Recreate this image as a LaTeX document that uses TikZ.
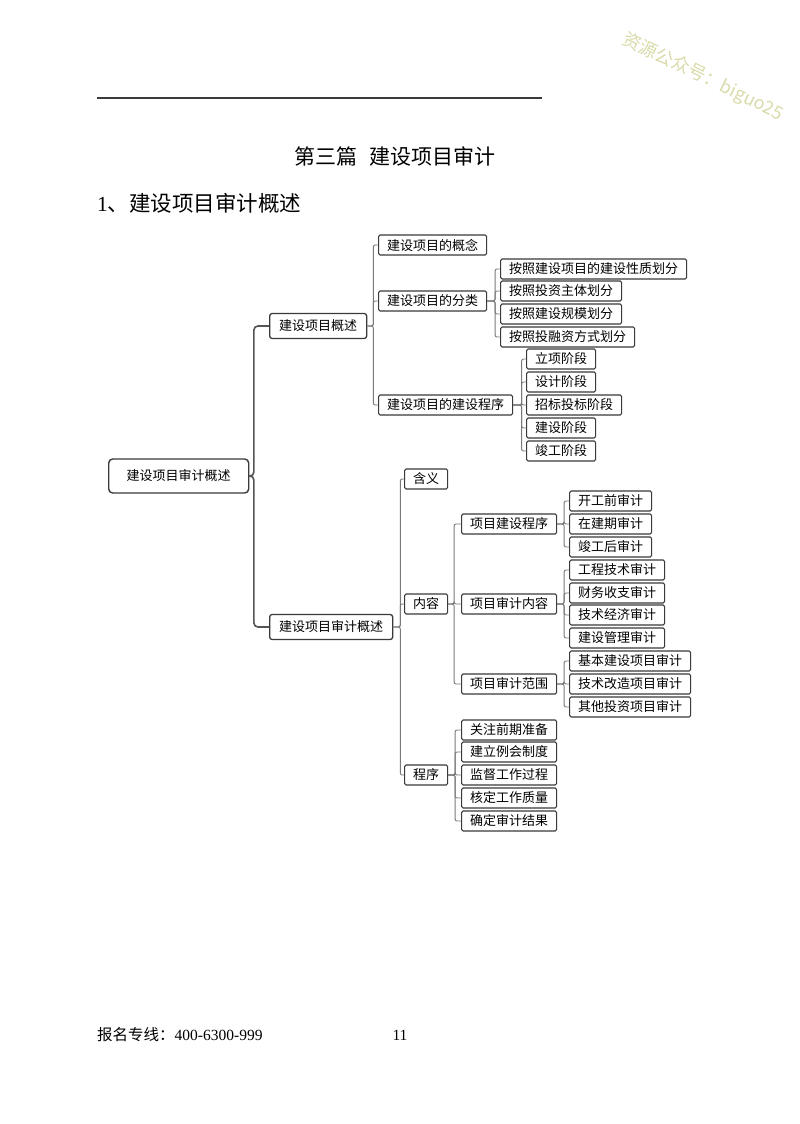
\documentclass[tikz,border=0pt]{standalone}
\usepackage{fontspec}
\setmainfont{Liberation Serif}
\newfontfamily\cjk{Noto Sans CJK SC}
\definecolor{boxc}{HTML}{3A3A3A}
\definecolor{linec}{HTML}{7A7A7A}
\definecolor{trunkc}{HTML}{555555}
\definecolor{wmc}{HTML}{DADAAA}
\begin{document}
\begin{tikzpicture}[x=1pt,y=-1pt,
  box/.style={draw=boxc,line width=1.1pt,rounded corners=1.5pt,fill=white,inner xsep=8.5pt,inner ysep=0pt,minimum height=20pt,anchor=west,font=\cjk\fontsize{13}{13}\selectfont},
  midbox/.style={box,minimum height=25pt,inner xsep=9.5pt,rounded corners=2.5pt,line width=1.3pt},
  rootbox/.style={box,minimum height=34pt,inner xsep=18pt,rounded corners=4pt,line width=1.4pt},
  link/.style={draw=linec,line width=0.9pt,rounded corners=2pt},
  trunk/.style={draw=trunkc,line width=1.6pt,rounded corners=4pt},
]
\useasboundingbox[fill=white] (0,0) rectangle (800,1124);
% header
\coordinate (hl) at (97,98);
\coordinate (hr) at (542,98);
\draw[line width=1.3pt,color=boxc] (hl) -- (hr);
\node[font=\cjk\fontsize{18}{18}\selectfont,text=wmc,rotate=-26] (wm) at (703,77) {资源公众号：biguo25};
\node[font=\cjk\fontsize{21}{21}\selectfont] (title) at (395,156) {第三篇\hspace{12pt}建设项目审计};
\node[anchor=west,inner sep=0pt] (sec) at (97,203) {\fontsize{21.5}{21.5}\selectfont 1\cjk 、建设项目审计概述};
% footer
\node[anchor=west,inner sep=0pt] (foot) at (97,1035) {\fontsize{15.5}{15.5}\selectfont{\cjk 报名专线：}400-6300-999};
\node[inner sep=0pt] (page) at (400,1035) {\fontsize{15.5}{15.5}\selectfont 11};

% nodes
\node[rootbox] (root) at (108,476) {建设项目审计概述};
\node[midbox] (gs) at (269,326) {建设项目概述};
\node[midbox] (sj) at (269,627) {建设项目审计概述};

\node[box] (gn) at (378,245) {建设项目的概念};
\node[box] (fl) at (378,301) {建设项目的分类};
\node[box] (cx) at (378,405) {建设项目的建设程序};

\node[box] (fl1) at (500,269) {按照建设项目的建设性质划分};
\node[box] (fl2) at (500,291) {按照投资主体划分};
\node[box] (fl3) at (500,314) {按照建设规模划分};
\node[box] (fl4) at (500,337) {按照投融资方式划分};

\node[box] (cx1) at (526,359) {立项阶段};
\node[box] (cx2) at (526,382) {设计阶段};
\node[box] (cx3) at (526,405) {招标投标阶段};
\node[box] (cx4) at (526,428) {建设阶段};
\node[box] (cx5) at (526,451) {竣工阶段};

\node[box] (hy) at (404,479) {含义};
\node[box] (nr) at (404,604) {内容};
\node[box] (px) at (404,775) {程序};

\node[box] (a) at (461,524) {项目建设程序};
\node[box] (b) at (461,604) {项目审计内容};
\node[box] (c) at (461,684) {项目审计范围};

\node[box] (a1) at (569,501) {开工前审计};
\node[box] (a2) at (569,524) {在建期审计};
\node[box] (a3) at (569,547) {竣工后审计};

\node[box] (b1) at (569,570) {工程技术审计};
\node[box] (b2) at (569,593) {财务收支审计};
\node[box] (b3) at (569,615) {技术经济审计};
\node[box] (b4) at (569,638) {建设管理审计};

\node[box] (c1) at (569,661) {基本建设项目审计};
\node[box] (c2) at (569,684) {技术改造项目审计};
\node[box] (c3) at (569,707) {其他投资项目审计};

\node[box] (p1) at (461,730) {关注前期准备};
\node[box] (p2) at (461,752) {建立例会制度};
\node[box] (p3) at (461,775) {监督工作过程};
\node[box] (p4) at (461,798) {核定工作质量};
\node[box] (p5) at (461,821) {确定审计结果};

% connectors
\foreach \c in {gs,sj} \draw[trunk] (root.east) -- ++(4.5,0) |- (\c.west);
\foreach \c in {gn,fl,cx} \draw[link] (gs.east) -- ++(6,0) |- (\c.west);
\foreach \c in {fl1,fl2,fl3,fl4} \draw[link] (fl.east) -- ++(8,0) |- (\c.west);
\foreach \c in {cx1,cx2,cx3,cx4,cx5} \draw[link] (cx.east) -- ++(8.5,0) |- (\c.west);
\foreach \c in {hy,nr,px} \draw[link] (sj.east) -- ++(7,0) |- (\c.west);
\foreach \c in {a,b,c} \draw[link] (nr.east) -- ++(6,0) |- (\c.west);
\foreach \c in {a1,a2,a3} \draw[link] (a.east) -- ++(7,0) |- (\c.west);
\foreach \c in {b1,b2,b3,b4} \draw[link] (b.east) -- ++(7,0) |- (\c.west);
\foreach \c in {c1,c2,c3} \draw[link] (c.east) -- ++(7,0) |- (\c.west);
\foreach \c in {p1,p2,p3,p4,p5} \draw[link] (px.east) -- ++(7,0) |- (\c.west);
\end{tikzpicture}
\end{document}
